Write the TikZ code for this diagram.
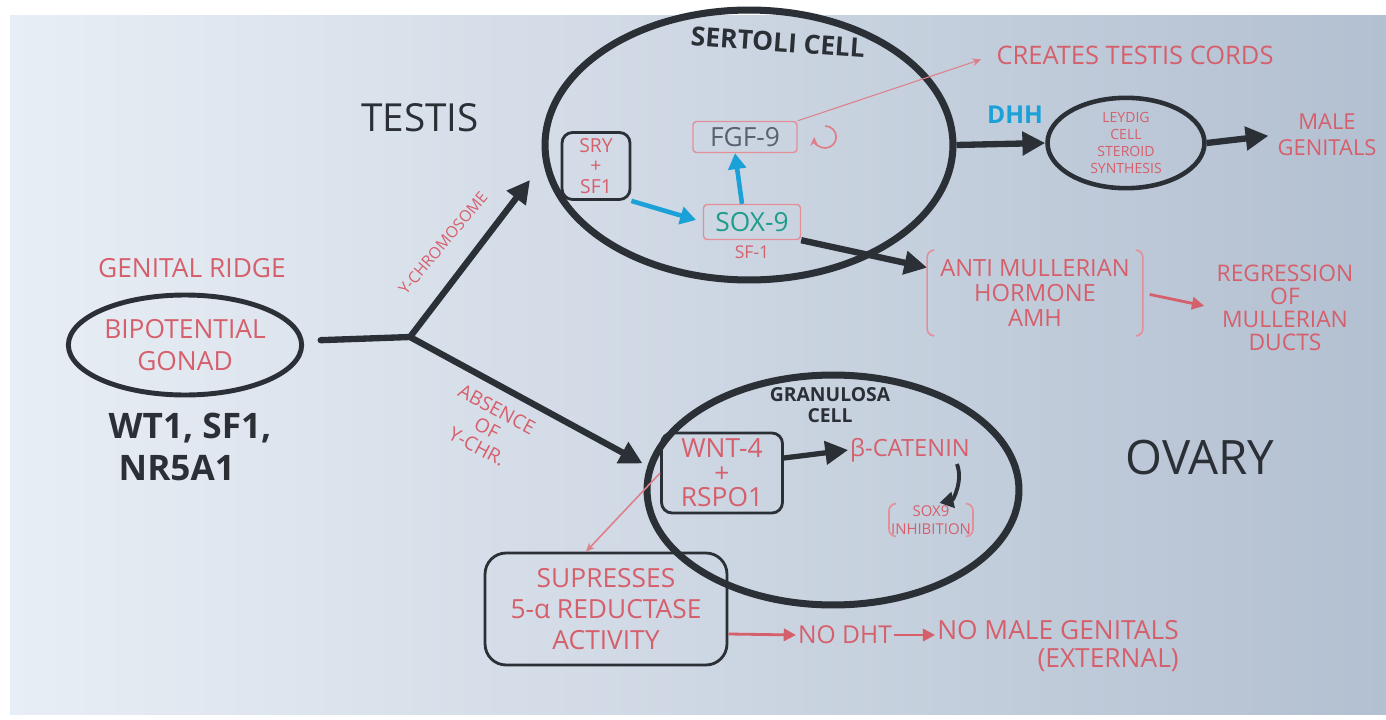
\documentclass[tikz,border=0pt]{standalone}
\usepackage{fontspec}
\setmainfont{Open Sans}
\usetikzlibrary{positioning, arrows.meta, shapes.geometric}
\definecolor{ink}{HTML}{2B2F36}
\definecolor{pen}{HTML}{D65F6C}
\definecolor{marker}{HTML}{1BA1D8}
\definecolor{sox}{HTML}{1E9C8C}
\definecolor{slate}{HTML}{5A6070}
\definecolor{boardl}{HTML}{E8EEF5}
\definecolor{boardr}{HTML}{B3C0D1}

\begin{document}
\begin{tikzpicture}[
        x=0.02cm, y=-0.02cm,
        redtext/.style={
            text=pen,
            align=center,
            inner sep=1pt,
            font=\fontsize{13}{16}\selectfont
        },
        redsmall/.style={
            redtext,
            font=\fontsize{8}{9.5}\selectfont
        },
        heading/.style={
            text=ink,
            align=center,
            inner sep=1pt,
            font=\fontsize{13}{15}\selectfont\bfseries
        },
        cell/.style={
            ellipse,
            draw=ink,
            line width=4pt
        },
        genebox/.style={
            rectangle,
            rounded corners=6pt,
            draw=ink,
            line width=1.6pt
        },
        tagbox/.style={
            rectangle,
            rounded corners=2pt,
            draw=pen!70,
            line width=0.8pt,
            font=\fontsize{15}{17}\selectfont
        },
        arrow/.style={
            -{Triangle[length=13pt, width=13pt]},
            line width=3.6pt,
            draw=ink
        },
        thinarrow/.style={
            -{Triangle[length=7pt, width=7pt]},
            line width=1.6pt,
            draw=pen
        },
        hairline/.style={
            -{Stealth[length=5pt, width=4.5pt]},
            line width=0.6pt,
            draw=pen!80
        },
        bluearrow/.style={
            -{Triangle[length=9pt, width=10pt]},
            line width=2.6pt,
            draw=marker
        },
        bracket/.style={
            draw=pen!70,
            line width=0.9pt,
            rounded corners=4pt
        }
    ]

    % Board
    \useasboundingbox (0,0) rectangle (1386,720);
    \fill[white] (0,0) rectangle (1386,720);
    \shade[left color=boardl, right color=boardr] (10,15) rectangle (1386,714);

    % Bipotential gonad
    \node[redtext, font=\fontsize{15}{18}\selectfont] (ridge) at (192,268) {GENITAL RIDGE};
    \node[cell, line width=2.8pt, minimum width=4.52cm, minimum height=2cm, redtext, font=\fontsize{15}{18}\selectfont] (gonad) at (185,345) {BIPOTENTIAL\\GONAD};
    \node[heading, font=\fontsize{20}{24}\selectfont\bfseries, align=left] (genes) at (190,447) {WT1, SF1,\\\hspace{0.2cm}NR5A1};

    % Testis
    \node[heading, font=\fontsize{22}{26}\selectfont\mdseries] (testis) at (420,118) {TESTIS};
    \node[cell, minimum width=8.16cm, minimum height=5.4cm] (sertoli) at (749,145) {};
    \node[heading, rotate=-4, font=\fontsize{15}{17}\selectfont\bfseries] (sertolilbl) at (778,42) {SERTOLI CELL};
    \node[genebox, redtext, minimum width=1.36cm, minimum height=1.34cm, font=\fontsize{11}{11.5}\selectfont] (sry) at (596,166) {SRY\\+\\SF1};
    \node[tagbox, minimum width=2.08cm, minimum height=0.6cm, text=slate] (fgf) at (745,137) {FGF-9};
    \node[tagbox, minimum width=1.94cm, minimum height=0.7cm, text=sox] (sox) at (752,222) {SOX-9};
    \node[redtext, font=\fontsize{10}{12}\selectfont, below=2pt of sox] (sf) {SF-1};
    \node[redtext, font=\fontsize{14.5}{17}\selectfont] (cords) at (1135,55) {CREATES TESTIS CORDS};
    \node[cell, line width=2.6pt, minimum width=3.14cm, minimum height=1.54cm, redsmall] (leydig) at (1126,143) {LEYDIG\\CELL\\STEROID\\SYNTHESIS};
    \node[text=marker, font=\fontsize{14}{16}\selectfont\bfseries] (dhh) at (1015,115) {DHH};
    \node[redtext, font=\fontsize{12.5}{15}\selectfont] (male) at (1327,135) {MALE\\GENITALS};
    \node[redtext, font=\fontsize{13.5}{14}\selectfont, minimum width=4.3cm, minimum height=1.7cm] (amh) at (1035,293) {ANTI MULLERIAN\\HORMONE\\AMH};
    \node[redtext, font=\fontsize{13}{13}\selectfont] (regress) at (1285,308) {REGRESSION\\OF\\MULLERIAN\\DUCTS};

    % Ovary
    \node[cell, minimum width=7.44cm, minimum height=4.6cm] (granulosa) at (833,490) {};
    \node[heading, font=\fontsize{11}{12}\selectfont\bfseries] (granlbl) at (830,405) {GRANULOSA\\CELL};
    \node[genebox, redtext, minimum width=2.42cm, minimum height=1.6cm, font=\fontsize{15}{14}\selectfont] (wnt) at (722,473) {WNT-4\\+\\RSPO1};
    \node[redtext, font=\fontsize{13.5}{15}\selectfont] (catenin) at (910,450) {β-CATENIN};
    \node[redsmall, font=\fontsize{8.5}{10}\selectfont] (inhib) at (931,520) {SOX9\\INHIBITION};
    \node[heading, font=\fontsize{27}{30}\selectfont\mdseries] (ovary) at (1200,458) {OVARY};
    \node[genebox, redtext, rounded corners=12pt, minimum width=4.84cm, minimum height=2.24cm, font=\fontsize{15}{17.5}\selectfont] (supp) at (606,609) {SUPRESSES\\5-α REDUCTASE\\ACTIVITY};
    \node[redtext, font=\fontsize{14}{16}\selectfont] (nodht) at (845,635) {NO DHT};
    \node[redtext, align=right, font=\fontsize{15}{16}\selectfont] (nomale) at (1058,646) {NO MALE GENITALS\\(EXTERNAL)};

    % Branching
    \coordinate (split) at (410,337);
    \coordinate (ytip) at (530,180);
    \draw[line width=3.6pt, draw=ink, line cap=round, shorten <=0.34cm] (gonad) -- (split);
    \draw[arrow] (split) -- (ytip);
    \draw[arrow, shorten >=0.4cm] (split) -- (wnt.west);
    \node[redtext, font=\fontsize{9}{10}\selectfont, rotate=50] (ychr) at (443,243) {Y-CHROMOSOME};
    \node[redtext, font=\fontsize{11}{12}\selectfont, rotate=-28] (absence) at (487,428) {ABSENCE\\OF\\Y-CHR.};

    % Arrows in testis
    \draw[bluearrow, shorten >=4pt] (sry.south east) -- (sox.west);
    \draw[bluearrow] ([xshift=-0.2cm]sox.north) -- ([xshift=-0.2cm]fgf.south);
    \draw[hairline, line width=1pt] ([xshift=0.55cm, yshift=0.22cm]fgf.east) arc[start angle=90, end angle=-180, radius=0.22cm];
    \draw[hairline, shorten >=8pt] (fgf.north east) -- (cords.west);
    \draw[arrow] (sertoli.east) -- (leydig.west);
    \draw[arrow, shorten >=4pt] (leydig.east) -- (male.west);
    \draw[arrow] (sox.south east) -- ([yshift=-0.35cm]amh.north west);
    \draw[bracket] ([xshift=0.12cm]amh.north west) -- (amh.north west) -- (amh.south west) -- ([xshift=0.12cm]amh.south west);
    \draw[bracket] ([xshift=-0.12cm]amh.north east) -- (amh.north east) -- (amh.south east) -- ([xshift=-0.12cm]amh.south east);
    \draw[thinarrow, shorten <=4pt, shorten >=6pt] (amh.east) -- (regress.west);

    % Arrows in ovary
    \draw[arrow, line width=3pt] ([yshift=0.3cm]wnt.east) -- (catenin.west);
    \draw[arrow, line width=2.2pt, -{Triangle[length=8pt, width=9pt]}, shorten >=2pt] ([xshift=-0.3cm]catenin.south east) to[bend left=50] ([xshift=0.1cm]inhib.north);
    \draw[bracket] ([xshift=0.1cm]inhib.north west) -- (inhib.north west) -- (inhib.south west) -- ([xshift=0.1cm]inhib.south west);
    \draw[bracket] ([xshift=-0.1cm]inhib.north east) -- (inhib.north east) -- (inhib.south east) -- ([xshift=-0.1cm]inhib.south east);
    \draw[hairline, line width=0.9pt] (wnt.west) -- ([xshift=-0.4cm]supp.north);
    \draw[thinarrow] ([yshift=-0.5cm]supp.east) -- (nodht.west);
    \draw[thinarrow] (nodht.east) -- (nodht.east -| nomale.west);

\end{tikzpicture}
\end{document}
